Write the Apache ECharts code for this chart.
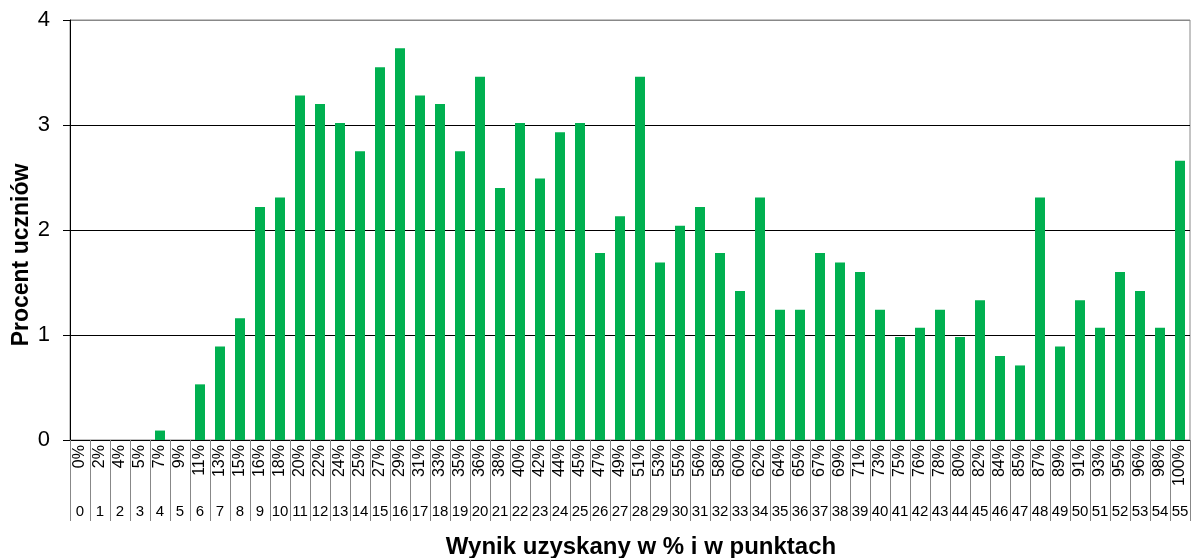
<!DOCTYPE html>
<html>
<head>
<meta charset="utf-8">
<script src="https://cdn.jsdelivr.net/npm/echarts@6/dist/echarts.min.js"></script>
<style>
html,body{margin:0;padding:0;background:#fff;}
#chart{width:1192px;height:558px;}
</style>
</head>
<body>
<div id="chart"></div>
<script>
var points = ['0','1','2','3','4','5','6','7','8','9','10','11','12','13','14','15','16','17','18','19','20','21','22','23','24','25','26','27','28','29','30','31','32','33','34','35','36','37','38','39','40','41','42','43','44','45','46','47','48','49','50','51','52','53','54','55'];
var percents = ['0%','2%','4%','5%','7%','9%','11%','13%','15%','16%','18%','20%','22%','24%','25%','27%','29%','31%','33%','35%','36%','38%','40%','42%','44%','45%','47%','49%','51%','53%','55%','56%','58%','60%','62%','64%','65%','67%','69%','71%','73%','75%','76%','78%','80%','82%','84%','85%','87%','89%','91%','93%','95%','96%','98%','100%'];
var values = [0,0,0,0,0.09,0,0.53,0.89,1.16,2.22,2.31,3.28,3.20,3.02,2.75,3.55,3.73,3.28,3.20,2.75,3.46,2.40,3.02,2.49,2.93,3.02,1.78,2.13,3.46,1.69,2.04,2.22,1.78,1.42,2.31,1.24,1.24,1.78,1.69,1.60,1.24,0.98,1.07,1.24,0.98,1.33,0.80,0.71,2.31,0.89,1.33,1.07,1.60,1.42,1.07,2.66];
var yTicks = [0,1,2,3,4];

var chart = echarts.init(document.getElementById('chart'), null, {renderer:'canvas'});
var font = 'Liberation Sans, Arial, sans-serif';
chart.setOption({
  animation:false,
  backgroundColor:'#fff',
  grid:{left:70,right:2,top:20,bottom:118,outerBoundsMode:'none',containLabel:false,show:true,borderColor:'#888',borderWidth:1,backgroundColor:'transparent'},
  xAxis:[{
    type:'category',
    data:percents,
    position:'bottom',
    axisLine:{show:true,lineStyle:{color:'#000',width:1}},
    axisTick:{show:true,interval:0,length:81,lineStyle:{color:'#888',width:1}},
    axisLabel:{interval:0,rotate:90,margin:5,fontFamily:font,fontSize:16,color:'#000'},
    splitLine:{show:false}
  },{
    type:'category',
    data:points,
    position:'bottom',
    offset:0,
    axisLine:{show:false},
    axisTick:{show:false},
    axisLabel:{interval:0,margin:64,fontFamily:font,fontSize:15,color:'#000'},
    name:'Wynik uzyskany w % i w punktach',
    nameLocation:'middle',
    nameGap:95,
    nameTextStyle:{fontFamily:font,fontSize:24,fontWeight:'bold',color:'#000',padding:[0,0,0,22]}
  }],
  yAxis:{
    type:'value',
    min:yTicks[0],max:yTicks[yTicks.length-1],interval:1,
    axisLine:{show:true,lineStyle:{color:'#000',width:1}},
    axisTick:{show:true,length:7,lineStyle:{color:'#000'}},
    axisLabel:{margin:20,fontFamily:font,fontSize:22,color:'#000'},
    splitLine:{show:true,lineStyle:{color:['#000','#000','#000','#000','#888'],width:1}},
    name:'Procent uczniów',
    nameLocation:'middle',
    nameMoveOverlap:false,
    nameGap:37,
    nameTextStyle:{fontFamily:font,fontSize:23,fontWeight:'bold',color:'#000',padding:[0,50,0,0]}
  },
  series:[{
    type:'bar',
    data:values,
    xAxisIndex:0,
    barWidth:10,
    itemStyle:{color:'#00B050'}
  }]
});
</script>
</body>
</html>
